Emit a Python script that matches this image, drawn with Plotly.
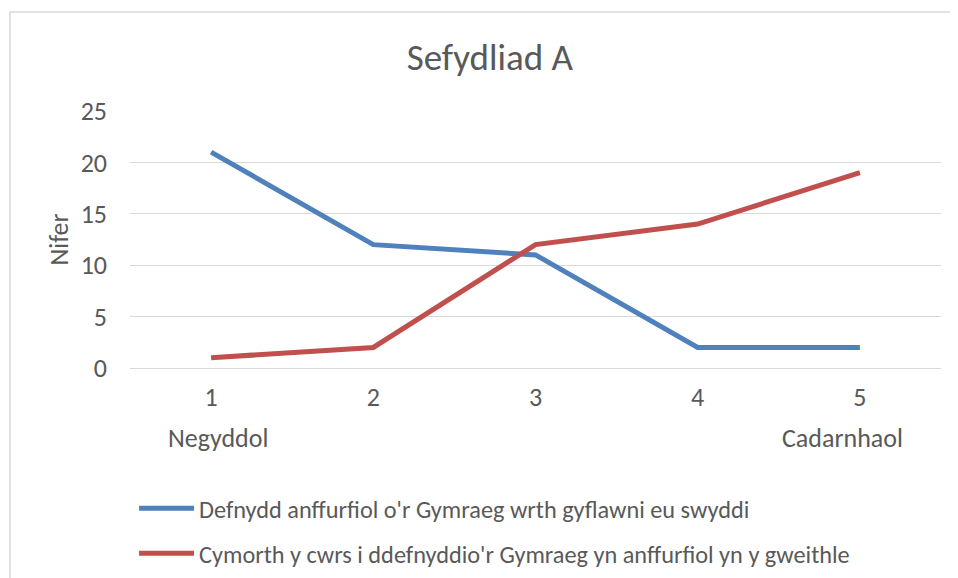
import plotly.graph_objects as go

# Likert scale categories (1 = negative, 5 = positive)
categories = [1, 2, 3, 4, 5]
informal_use = [21, 12, 11, 2, 2]
course_support = [1, 2, 12, 14, 19]

series_names = [
    "Defnydd anffurfiol o'r Gymraeg wrth gyflawni eu swyddi",
    "Cymorth y cwrs i ddefnyddio'r Gymraeg yn anffurfiol yn y gweithle",
]

FONT = "Carlito, Calibri, Open Sans, sans-serif"
TXT = "#595959"

fig = go.Figure()

fig.add_trace(go.Scatter(
    x=categories, y=informal_use,
    name=series_names[0],
    mode="lines",
    line=dict(color="#4F81BD", width=5),
    legend="legend",
))
fig.add_trace(go.Scatter(
    x=categories, y=course_support,
    name=series_names[1],
    mode="lines",
    line=dict(color="#C0504D", width=5),
    legend="legend2",
))

# scale-end captions under the category axis
for txt, xpos in [("Negyddol", 0.108), ("Cadarnhaol", 0.878)]:
    fig.add_annotation(text=txt, x=xpos, y=-0.272, xref="paper", yref="paper",
                       xanchor="center", yanchor="middle",
                       showarrow=False, font=dict(size=26, color=TXT))

# chart frame (right/bottom edges run off the picture)
fig.add_shape(type="rect", xref="paper", yref="paper",
              x0=-0.148, y0=-0.85, x1=1.05, y1=1.385,
              line=dict(color="#D9D9D9", width=1.5), layer="below")

legend_common = dict(
    orientation="v", xanchor="left", yanchor="middle",
    font=dict(size=24.3, color=TXT, family=FONT),
    bgcolor="rgba(0,0,0,0)", itemwidth=55,
)

# page body has an 8px margin, so margins are offset to line up with the reference
fig.update_layout(
    width=958, height=578,
    paper_bgcolor="white", plot_bgcolor="white",
    font=dict(family=FONT, color=TXT, size=26),
    margin=dict(l=122, r=25, t=103, b=218, autoexpand=False),
    title=dict(text="Sefydliad A", x=0.503, xanchor="center",
               y=0.915, yanchor="middle",
               font=dict(size=37, color=TXT, family=FONT)),
    legend=dict(x=0.005, y=-0.547, **legend_common),
    legend2=dict(x=0.005, y=-0.722, **legend_common),
    showlegend=True,
)

fig.update_xaxes(
    range=[0.5, 5.5], tickvals=categories, ticktext=[str(c) for c in categories],
    showgrid=False, zeroline=False, showline=False,
    ticks="", ticklabelstandoff=11,
    tickfont=dict(size=26, color=TXT),
)
fig.update_yaxes(
    range=[0, 25], dtick=5, tick0=0,
    showgrid=True, gridcolor="#D9D9D9", gridwidth=1.2,
    zeroline=True, zerolinecolor="#D9D9D9", zerolinewidth=1.2,
    showline=False, ticks="", ticklabelstandoff=22,
    tickfont=dict(size=26, color=TXT),
    title=dict(text="Nifer", standoff=4, font=dict(size=26, color=TXT)),
)

fig.write_html("out.html")
